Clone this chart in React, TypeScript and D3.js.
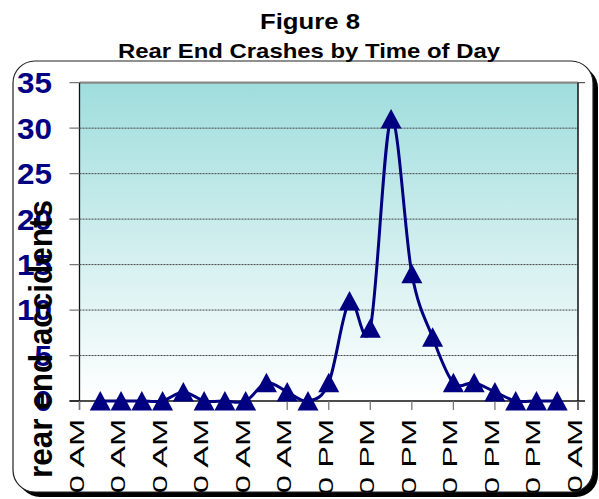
import React from "react";
import * as d3 from "d3";

// Hour of day (1..23) for each plotted reading
const hourOfDay = [1, 2, 3, 4, 5, 6, 7, 8, 9, 10, 11, 12, 13, 14, 15, 16, 17, 18, 19, 20, 21, 22, 23];
// Rear end crashes counted in each hour
const rearEndCrashes = [0, 0, 0, 0, 1, 0, 0, 0, 2, 1, 0, 2, 11, 8, 31, 14, 7, 2, 2, 1, 0, 0, 0];
// Axis tick hours and their labels
const xTickHours = [0, 2, 4, 6, 8, 10, 12, 14, 16, 18, 20, 22, 24];
const xTickLabels = [
  "12:00 AM", "2:00 AM", "4:00 AM", "6:00 AM", "8:00 AM", "10:00 AM",
  "12:00 PM", "2:00 PM", "4:00 PM", "6:00 PM", "8:00 PM", "10:00 PM", "12:00 AM",
];
const yTicks = [0, 5, 10, 15, 20, 25, 30, 35];

const W = 599;
const H = 499;
const plot = { left: 79.5, right: 578, top: 82.7, bottom: 401 };
const NAVY = "#000080";
const FONT = "Arial, 'Liberation Sans', Helvetica, sans-serif";

export default function App() {
  const x = d3.scaleLinear().domain([0, 24]).range([plot.left, plot.right]);
  const y = d3.scaleLinear().domain([0, 35]).range([plot.bottom, plot.top]);

  const points: [number, number][] = hourOfDay.map((h, i) => [x(h), y(rearEndCrashes[i])]);
  const line = d3.line().curve(d3.curveCatmullRom.alpha(0))(points) || "";

  const tri = (cx: number, cy: number) =>
    `M${cx},${cy - 10} L${cx + 10.5},${cy + 9.5} L${cx - 10.5},${cy + 9.5} Z`;

  const frame = { x: 13, y: 61, w: 580, h: 431, r: 22 };

  return (
    <svg
      width={W}
      height={H}
      style={{ position: "absolute", left: 0, top: 0 }}
      fontFamily={FONT}
    >
      <defs>
        <linearGradient id="plotFill" x1="0" y1="0" x2="0" y2="1">
          <stop offset="0" stopColor="#a0dddd" />
          <stop offset="1" stopColor="#ffffff" />
        </linearGradient>
        <clipPath id="frameClip">
          <rect x={frame.x} y={frame.y} width={frame.w} height={frame.h} rx={frame.r} />
        </clipPath>
      </defs>
      <rect width={W} height={H} fill="#ffffff" />

      {/* chart frame with drop shadow */}
      <rect x={frame.x + 5} y={frame.y + 5} width={frame.w} height={frame.h} rx={frame.r} fill="#000" />
      <rect x={frame.x} y={frame.y} width={frame.w} height={frame.h} rx={frame.r} fill="#fff" stroke="#222" strokeWidth={1.2} />

      <g clipPath="url(#frameClip)">
        {/* plot area */}
        <rect
          x={plot.left}
          y={plot.top}
          width={plot.right - plot.left}
          height={plot.bottom - plot.top}
          fill="url(#plotFill)"
        />
        {yTicks.filter((t) => t > 0 && t < 35).map((t) => (
          <line
            key={"g" + t}
            x1={plot.left}
            x2={plot.right}
            y1={y(t)}
            y2={y(t)}
            stroke="#444"
            strokeWidth={1}
            strokeDasharray="2,1"
          />
        ))}
        {/* plot border */}
        <line x1={plot.left} x2={plot.right} y1={plot.top} y2={plot.top} stroke="#888" strokeWidth={2.2} />
        <line x1={plot.right} x2={plot.right + 7} y1={plot.top} y2={plot.top} stroke="#333" strokeWidth={1} />
        <line x1={plot.right} x2={plot.right} y1={plot.top} y2={plot.bottom + 9} stroke="#111" strokeWidth={1.5} />

        {/* y axis */}
        <line x1={plot.left} x2={plot.left} y1={plot.top} y2={plot.bottom + 9} stroke="#111" strokeWidth={1.3} />
        {yTicks.map((t) => (
          <line key={"yt" + t} x1={plot.left - 10} x2={plot.left} y1={y(t)} y2={y(t)} stroke="#777" strokeWidth={1.3} />
        ))}
        {yTicks.map((t) => (
          <text
            key={"yl" + t}
            x={52}
            y={y(t) + 10.4}
            textAnchor="end"
            fontSize={29}
            fontWeight="bold"
            fill={NAVY}
            textLength={String(t).length * 17.5}
            lengthAdjust="spacingAndGlyphs"
          >
            {t}
          </text>
        ))}

        {/* x axis */}
        <line x1={plot.left - 10} x2={plot.right + 7} y1={plot.bottom} y2={plot.bottom} stroke="#111" strokeWidth={1.3} />
        {xTickHours.map((h) => (
          <line key={"xt" + h} x1={x(h)} x2={x(h)} y1={plot.bottom} y2={plot.bottom + 9} stroke="#777" strokeWidth={1.3} />
        ))}
        {xTickHours.map((h, i) => (
          <text
            key={"xl" + h}
            transform={`translate(${x(h) + 4},419) rotate(-90) scale(1.55,1)`}
            textAnchor="end"
            fontSize={21}
            fill="#000"
          >
            {xTickLabels[i]}
          </text>
        ))}

        {/* series */}
        <path d={line} fill="none" stroke={NAVY} strokeWidth={3} strokeLinejoin="round" />
        {points.map(([px, py], i) => (
          <path key={"m" + i} d={tri(px, py)} fill={NAVY} />
        ))}

        {/* y axis title */}
        <text
          transform="translate(52,339) rotate(-90)"
          textAnchor="middle"
          fontSize={33}
          fontWeight="bold"
          fill="#000"
          textLength={278}
          lengthAdjust="spacingAndGlyphs"
        >
          rear end accidents
        </text>
      </g>

      {/* titles */}
      <text x={310} y={29.3} textAnchor="middle" fontSize={22} fontWeight="bold" textLength={100} lengthAdjust="spacingAndGlyphs">
        Figure 8
      </text>
      <text x={309} y={58.3} textAnchor="middle" fontSize={21} fontWeight="bold" textLength={382} lengthAdjust="spacingAndGlyphs">
        Rear End Crashes by Time of Day
      </text>
    </svg>
  );
}
